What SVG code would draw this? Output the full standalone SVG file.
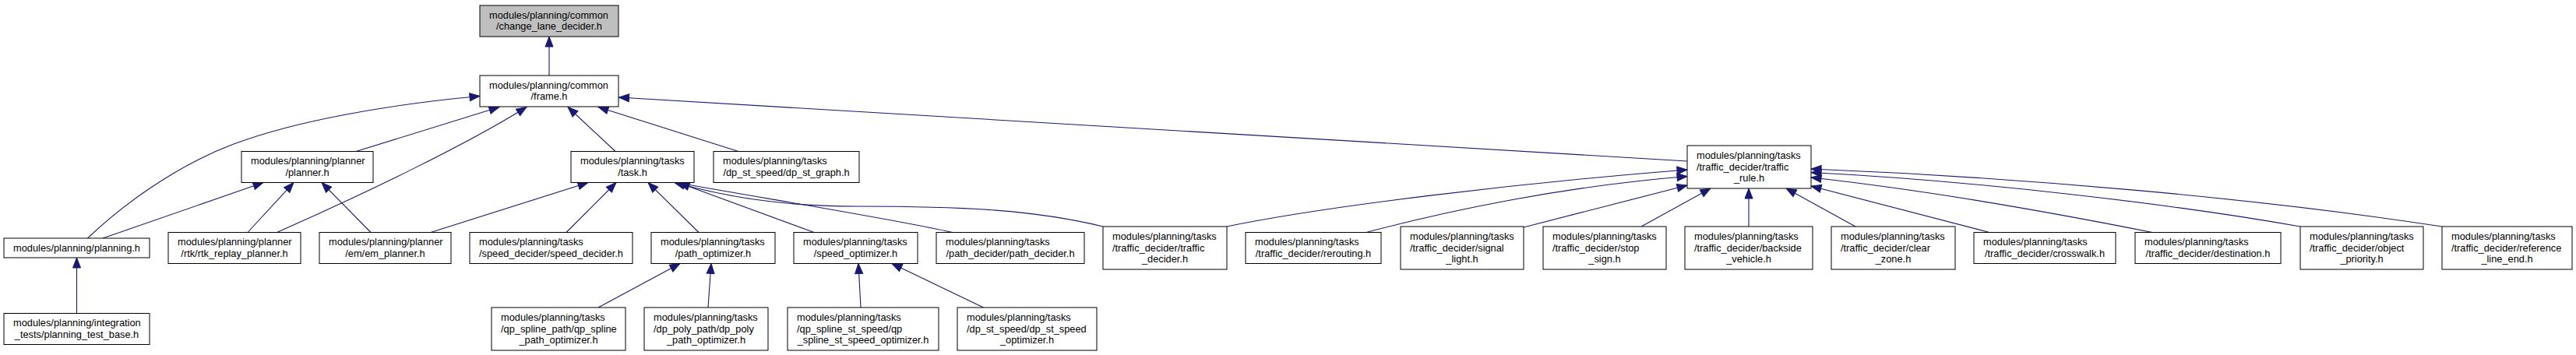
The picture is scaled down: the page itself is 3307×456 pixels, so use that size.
<svg xmlns="http://www.w3.org/2000/svg" width="3307" height="456" viewBox="0 0 3307 456">
<style>
.node rect{fill:#ffffff;stroke:#000000;stroke-width:1}
.node.root rect{fill:#bfbfbf}
.node text{font-family:"Liberation Sans",Arial,Helvetica,sans-serif;font-size:12.8px;fill:#000000}
.l{text-anchor:start}
.c{text-anchor:middle}
#edges path{fill:none;stroke:#191970;stroke-width:1.1;marker-end:url(#ah)}
</style>
<defs>
<marker id="ah" markerWidth="14" markerHeight="11" refX="13" refY="5" orient="auto" markerUnits="userSpaceOnUse" overflow="visible">
<path d="M0,0 L13,5 L0,10 z" fill="#191970" stroke="#191970" stroke-width="1"/>
</marker>
</defs>
<rect x="0" y="0" width="3307" height="456" fill="#ffffff"/>
<g id="edges">
<path d="M705,97 L705,47"/>
<path d="M112.5,306 C150,270 220,215 300,185 C380,155 500,134 616,123.5"/>
<path d="M457,194.5 L641,137.5"/>
<path d="M355.5,298.5 C470,248 600,185 676,137.5"/>
<path d="M790,194.5 L729,137.5"/>
<path d="M948,194.5 L768,137.5"/>
<path d="M2166,207 L794.5,125"/>
<path d="M98.5,402.5 L98.5,331"/>
<path d="M132,306 L338,234.5"/>
<path d="M318,298.5 L377,234.5"/>
<path d="M476,298.5 L413,234.5"/>
<path d="M553,298.5 L755,234.5"/>
<path d="M727,298.5 L791,234.5"/>
<path d="M897,298.5 L832,234.5"/>
<path d="M1045,298.5 L872,235"/>
<path d="M1223,298.5 C1150,282 1000,258 868,234.5"/>
<path d="M1416,291 C1330,270 1240,265 1100,265 C1000,265 930,252 866,234.5"/>
<path d="M768,395 L873,338.5"/>
<path d="M909,395 L913,338.5"/>
<path d="M1105,395 L1102,338.5"/>
<path d="M1262.5,395 L1145,338.5"/>
<path d="M1575,291 C1700,265 1950,235 2166,218"/>
<path d="M1754,298.5 C1850,273 2000,240 2166,226.5"/>
<path d="M1956,292 L2166,238"/>
<path d="M2107,291 L2196,242"/>
<path d="M2245,291 L2245,242"/>
<path d="M2382,291 L2293,242"/>
<path d="M2554,298.5 L2325,239"/>
<path d="M2763,298.5 C2650,276 2480,245 2325,228"/>
<path d="M2953,291 C2800,264 2550,233 2325,221.5"/>
<path d="M3135,291 C2900,255 2600,228 2325,217"/>
</g>
<g id="n0" class="node root"><rect x="616" y="7" width="178" height="40"/><text class="l" x="628" y="23.7">modules/planning/common</text><text class="c" x="705" y="38.2">/change_lane_decider.h</text></g>
<g id="n1" class="node"><rect x="616" y="97" width="178" height="40"/><text class="l" x="628" y="113.7">modules/planning/common</text><text class="c" x="705" y="128.2">/frame.h</text></g>
<g id="n2" class="node"><rect x="310" y="194.5" width="169" height="40"/><text class="l" x="322" y="211.2">modules/planning/planner</text><text class="c" x="394.5" y="225.7">/planner.h</text></g>
<g id="n3" class="node"><rect x="733" y="194.5" width="158" height="40"/><text class="l" x="745" y="211.2">modules/planning/tasks</text><text class="c" x="812" y="225.7">/task.h</text></g>
<g id="n4" class="node"><rect x="916" y="194.5" width="187" height="40"/><text class="l" x="928" y="211.2">modules/planning/tasks</text><text class="c" x="1009.5" y="225.7">/dp_st_speed/dp_st_graph.h</text></g>
<g id="n5" class="node"><rect x="2166" y="187" width="159" height="55"/><text class="l" x="2178" y="204">modules/planning/tasks</text><text class="l" x="2178" y="218.5">/traffic_decider/traffic</text><text class="c" x="2245.5" y="233">_rule.h</text></g>
<g id="n6" class="node"><rect x="5" y="306" width="187" height="25"/><text class="c" x="98.5" y="322.5">modules/planning/planning.h</text></g>
<g id="n7" class="node"><rect x="216" y="298.5" width="170" height="40"/><text class="l" x="228" y="315.2">modules/planning/planner</text><text class="c" x="301" y="329.7">/rtk/rtk_replay_planner.h</text></g>
<g id="n8" class="node"><rect x="410" y="298.5" width="169" height="40"/><text class="l" x="422" y="315.2">modules/planning/planner</text><text class="c" x="494.5" y="329.7">/em/em_planner.h</text></g>
<g id="n9" class="node"><rect x="603" y="298.5" width="209" height="40"/><text class="l" x="615" y="315.2">modules/planning/tasks</text><text class="c" x="707.5" y="329.7">/speed_decider/speed_decider.h</text></g>
<g id="n10" class="node"><rect x="836" y="298.5" width="159" height="40"/><text class="l" x="848" y="315.2">modules/planning/tasks</text><text class="c" x="915.5" y="329.7">/path_optimizer.h</text></g>
<g id="n11" class="node"><rect x="1019" y="298.5" width="159" height="40"/><text class="l" x="1031" y="315.2">modules/planning/tasks</text><text class="c" x="1098.5" y="329.7">/speed_optimizer.h</text></g>
<g id="n12" class="node"><rect x="1202" y="298.5" width="190" height="40"/><text class="l" x="1214" y="315.2">modules/planning/tasks</text><text class="c" x="1297" y="329.7">/path_decider/path_decider.h</text></g>
<g id="n13" class="node"><rect x="1416" y="291" width="159" height="55"/><text class="l" x="1428" y="308">modules/planning/tasks</text><text class="l" x="1428" y="322.5">/traffic_decider/traffic</text><text class="c" x="1495.5" y="337">_decider.h</text></g>
<g id="n14" class="node"><rect x="1599" y="298.5" width="174" height="40"/><text class="l" x="1611" y="315.2">modules/planning/tasks</text><text class="c" x="1686" y="329.7">/traffic_decider/rerouting.h</text></g>
<g id="n15" class="node"><rect x="1798" y="291" width="158" height="55"/><text class="l" x="1810" y="308">modules/planning/tasks</text><text class="l" x="1810" y="322.5">/traffic_decider/signal</text><text class="c" x="1877" y="337">_light.h</text></g>
<g id="n16" class="node"><rect x="1981" y="291" width="158" height="55"/><text class="l" x="1993" y="308">modules/planning/tasks</text><text class="l" x="1993" y="322.5">/traffic_decider/stop</text><text class="c" x="2060" y="337">_sign.h</text></g>
<g id="n17" class="node"><rect x="2163" y="291" width="164" height="55"/><text class="l" x="2175" y="308">modules/planning/tasks</text><text class="l" x="2175" y="322.5">/traffic_decider/backside</text><text class="c" x="2245" y="337">_vehicle.h</text></g>
<g id="n18" class="node"><rect x="2351" y="291" width="159" height="55"/><text class="l" x="2363" y="308">modules/planning/tasks</text><text class="l" x="2363" y="322.5">/traffic_decider/clear</text><text class="c" x="2430.5" y="337">_zone.h</text></g>
<g id="n19" class="node"><rect x="2534" y="298.5" width="182" height="40"/><text class="l" x="2546" y="315.2">modules/planning/tasks</text><text class="c" x="2625" y="329.7">/traffic_decider/crosswalk.h</text></g>
<g id="n20" class="node"><rect x="2741" y="298.5" width="187" height="40"/><text class="l" x="2753" y="315.2">modules/planning/tasks</text><text class="c" x="2834.5" y="329.7">/traffic_decider/destination.h</text></g>
<g id="n21" class="node"><rect x="2953" y="291" width="158" height="55"/><text class="l" x="2965" y="308">modules/planning/tasks</text><text class="l" x="2965" y="322.5">/traffic_decider/object</text><text class="c" x="3032" y="337">_priority.h</text></g>
<g id="n22" class="node"><rect x="3135" y="291" width="167" height="55"/><text class="l" x="3147" y="308">modules/planning/tasks</text><text class="l" x="3147" y="322.5">/traffic_decider/reference</text><text class="c" x="3218.5" y="337">_line_end.h</text></g>
<g id="n23" class="node"><rect x="5" y="402.5" width="187" height="40"/><text class="l" x="17" y="419.2">modules/planning/integration</text><text class="c" x="98.5" y="433.7">_tests/planning_test_base.h</text></g>
<g id="n24" class="node"><rect x="631" y="395" width="172" height="55"/><text class="l" x="643" y="412">modules/planning/tasks</text><text class="l" x="643" y="426.5">/qp_spline_path/qp_spline</text><text class="c" x="717" y="441">_path_optimizer.h</text></g>
<g id="n25" class="node"><rect x="827" y="395" width="159" height="55"/><text class="l" x="839" y="412">modules/planning/tasks</text><text class="l" x="839" y="426.5">/dp_poly_path/dp_poly</text><text class="c" x="906.5" y="441">_path_optimizer.h</text></g>
<g id="n26" class="node"><rect x="1011" y="395" width="194" height="55"/><text class="l" x="1023" y="412">modules/planning/tasks</text><text class="l" x="1023" y="426.5">/qp_spline_st_speed/qp</text><text class="c" x="1108" y="441">_spline_st_speed_optimizer.h</text></g>
<g id="n27" class="node"><rect x="1229" y="395" width="179" height="55"/><text class="l" x="1241" y="412">modules/planning/tasks</text><text class="l" x="1241" y="426.5">/dp_st_speed/dp_st_speed</text><text class="c" x="1318.5" y="441">_optimizer.h</text></g>
</svg>
